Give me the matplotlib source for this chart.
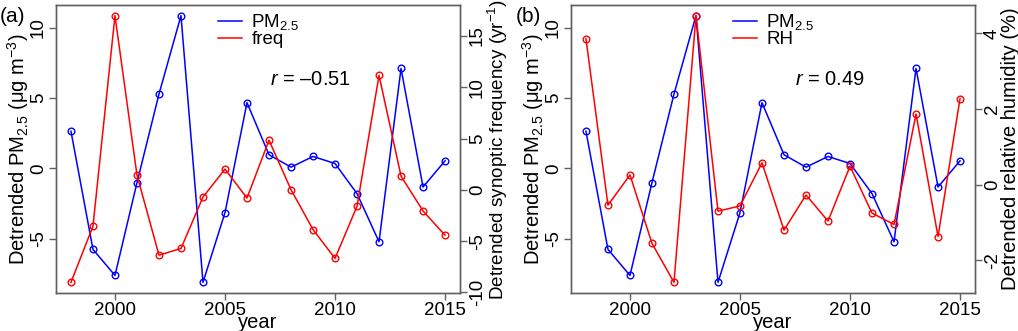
import numpy as np
import matplotlib
matplotlib.use("Agg")
import matplotlib.pyplot as plt
from matplotlib.lines import Line2D

# detrended annual series
years = list(range(1998, 2016))
pm25 = [2.64, -5.75, -7.60, -1.01, 5.28, 10.85, -8.09, -3.14, 4.67,
        0.97, 0.09, 0.85, 0.35, -1.79, -5.21, 7.10, -1.32, 0.54]
freq = [-9.01, -3.54, 16.97, 1.44, -6.36, -5.71, -0.70, 2.02, -0.80,
        4.84, 0.02, -3.87, -6.68, -1.60, 11.15, 1.34, -2.06, -4.42]
rh = [3.86, -0.54, 0.26, -1.55, -2.58, 4.47, -0.70, -0.56, 0.58,
      -1.20, -0.27, -0.96, 0.49, -0.75, -1.05, 1.87, -1.37, 2.28]

xticks = [2000, 2005, 2010, 2015]
pm_ticks = [-5, 0, 5, 10]
freq_ticks = [-10, -5, 0, 5, 10, 15]
rh_ticks = [-2, 0, 2, 4]

plt.rcParams["font.family"] = ["Liberation Sans", "DejaVu Sans"]
plt.rcParams["axes.unicode_minus"] = False
plt.rcParams["mathtext.fontset"] = "custom"
plt.rcParams["mathtext.rm"] = "Liberation Sans"
plt.rcParams["mathtext.it"] = "Liberation Sans:italic"
plt.rcParams["mathtext.default"] = "regular"

BLUE = "#0000ff"
RED = "#ff0000"
GREY = "#606060"
TICK_FS = 13.5
LAB_FS = 14.5


def rlim(v):
    # R-style 4% padding
    lo, hi = min(v), max(v)
    pad = 0.04 * (hi - lo)
    return lo - pad, hi + pad


def style(ax):
    for s in ax.spines.values():
        s.set_color(GREY)
        s.set_linewidth(1.0)
    ax.tick_params(axis="both", direction="out", length=5, width=1.0,
                   color=GREY, labelsize=TICK_FS, pad=1.5)
    ax.tick_params(axis="y", labelrotation=90)
    for lab in ax.get_yticklabels():
        lab.set_va("center")


def panel(ax, other, other_ticks, other_label, other_fs, other_name,
          r_text, r_x, tag, tag_x):
    ax.set_xlim(*rlim(years))
    ax.set_ylim(*rlim(pm25))
    ax.plot(years, pm25, "-o", color=BLUE, lw=1.1, ms=4.8,
            mfc="none", mew=1.0)
    ax.set_xticks(xticks)
    ax.set_yticks(pm_ticks)
    ax.set_xlabel("year", fontsize=LAB_FS, labelpad=-4)
    ax.set_ylabel("Detrended PM$_{2.5}$ ($\\mu$g m$^{-3}$)", fontsize=LAB_FS,
                  labelpad=-1)
    style(ax)

    ax2 = ax.twinx()
    ax2.set_ylim(*rlim(other))
    ax2.plot(years, other, "-o", color=RED, lw=1.1, ms=4.8,
             mfc="none", mew=1.0)
    ax2.set_yticks(other_ticks)
    ax2.set_ylabel(other_label, fontsize=other_fs, labelpad=0)
    style(ax2)

    handles = [Line2D([], [], color=BLUE, lw=1.1),
               Line2D([], [], color=RED, lw=1.1)]
    ax.legend(handles, ["PM$_{2.5}$", other_name], loc="upper left",
              bbox_to_anchor=(0.40, 0.975), frameon=False, fontsize=13.5,
              handlelength=1.3, handletextpad=0.5, labelspacing=-0.05,
              borderpad=0, borderaxespad=0)
    ax.text(r_x, 0.74, r_text, transform=ax.transAxes, fontsize=14.5,
            ha="center", va="center")
    ax.figure.text(tag_x, 0.95, tag, fontsize=15, ha="left", va="center")


fig = plt.figure(figsize=(10.18, 3.31), dpi=100)
W, H = 1018, 331
ax_a = fig.add_axes([56 / W, 38 / H, 404 / W, 288 / H])
ax_b = fig.add_axes([571 / W, 38 / H, 404 / W, 288 / H])

panel(ax_a, freq, freq_ticks, "Detrended synoptic frequency (yr$^{-1}$)",
      13.6, "freq", "$\\mathit{r}$ = \u20130.51", 0.63, "(a)", 0 / W)
panel(ax_b, rh, rh_ticks, "Detrended relative humidity (%)", LAB_FS,
      "RH", "$\\mathit{r}$ = 0.49", 0.64, "(b)", 516 / W)

fig.savefig("out.png", dpi=100)
